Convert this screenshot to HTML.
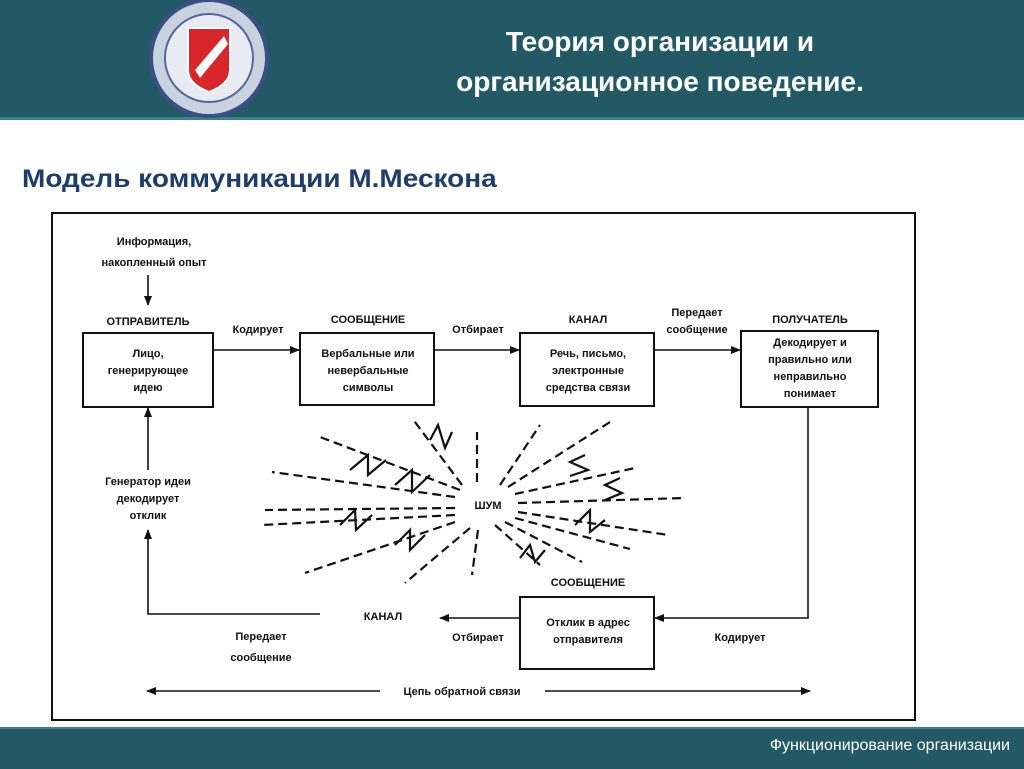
<!DOCTYPE html>
<html><head><meta charset="utf-8"><style>
body{margin:0;width:1024px;height:767px;overflow:hidden;background:#fff;font-family:"Liberation Sans",sans-serif;position:relative}
.hdr{position:absolute;left:0;top:0;width:1024px;height:117px;background:#235965;border-bottom:3px solid #3d7f8c}
.ttl{position:absolute;left:380px;top:22px;width:560px;text-align:center;color:#fff;font-size:28px;font-weight:bold;line-height:40px}
.sub{position:absolute;left:22px;top:165px;color:#1f3d6b;font-size:25px;font-weight:bold;transform:scaleX(1.12);transform-origin:left}
.ftr{position:absolute;left:0;top:727px;width:1024px;height:40px;background:#235965;border-top:2px solid #3d7f8c}
.ftr span{position:absolute;right:14px;top:8px;color:#fff;font-size:16px}
svg text{font-family:"Liberation Sans",sans-serif;font-weight:bold;font-size:11px;fill:#111}
</style></head><body>
<div class="hdr">
<svg width="140" height="118" style="position:absolute;left:140px;top:0">
<ellipse cx="69" cy="58" rx="58" ry="58" fill="#c9d3e0" stroke="#3b4f86" stroke-width="4"/>
<ellipse cx="69" cy="58" rx="44" ry="44" fill="#e8ecf2" stroke="#56689a" stroke-width="2"/>
<path d="M48 28 H90 V70 Q90 84 69 92 Q48 84 48 70 Z" fill="#d8262b" stroke="#fff" stroke-width="2"/>
<path d="M55 70 L84 36 L88 44 L60 78 Z" fill="#fff"/>
</svg>
<div class="ttl">Теория организации и<br>организационное поведение.</div>
</div>
<div class="sub">Модель коммуникации М.Мескона</div>
<svg width="1024" height="767" style="position:absolute;left:0;top:0">
<defs><marker id="a" markerWidth="10" markerHeight="8" refX="9" refY="4" orient="auto" markerUnits="userSpaceOnUse"><path d="M0 0 L10 4 L0 8 Z" fill="#111"/></marker></defs>
<rect x="52" y="213" width="863" height="507" fill="none" stroke="#111" stroke-width="2"/>
<g fill="none" stroke="#111" stroke-width="2">
<rect x="83" y="333" width="130" height="74"/>
<rect x="300" y="333" width="134" height="72"/>
<rect x="520" y="333" width="134" height="73"/>
<rect x="741" y="331" width="137" height="76"/>
<rect x="520" y="597" width="134" height="72"/>
</g>
<g stroke="#111" stroke-width="1.6" fill="none" marker-end="url(#a)">
<line x1="148" y1="275" x2="148" y2="305"/>
<line x1="213" y1="350" x2="299" y2="350"/>
<line x1="434" y1="350" x2="519" y2="350"/>
<line x1="654" y1="350" x2="740" y2="350"/>
<polyline points="808,407 808,618 655,618"/>
<line x1="520" y1="618" x2="440" y2="618"/>
<polyline points="320,614 148,614 148,530"/>
<line x1="148" y1="470" x2="148" y2="408"/>
<line x1="545" y1="691" x2="810" y2="691"/>
<line x1="380" y1="691" x2="147" y2="691"/>
</g>
<g text-anchor="middle">
<text x="154" y="245">Информация,</text><text x="154" y="266">накопленный опыт</text>
<text x="148" y="325">ОТПРАВИТЕЛЬ</text>
<text x="258" y="333">Кодирует</text>
<text x="148" y="357">Лицо,</text><text x="148" y="374">генерирующее</text><text x="148" y="391">идею</text>
<text x="368" y="323">СООБЩЕНИЕ</text>
<text x="368" y="357">Вербальные или</text><text x="368" y="374">невербальные</text><text x="368" y="391">символы</text>
<text x="478" y="333">Отбирает</text>
<text x="588" y="323">КАНАЛ</text>
<text x="588" y="357">Речь, письмо,</text><text x="588" y="374">электронные</text><text x="588" y="391">средства связи</text>
<text x="697" y="316">Передает</text><text x="697" y="333">сообщение</text>
<text x="810" y="323">ПОЛУЧАТЕЛЬ</text>
<text x="810" y="346">Декодирует и</text><text x="810" y="363">правильно или</text><text x="810" y="380">неправильно</text><text x="810" y="397">понимает</text>
<text x="148" y="485">Генератор идеи</text><text x="148" y="502">декодирует</text><text x="148" y="519">отклик</text>
<text x="488" y="509">ШУМ</text>
<text x="588" y="586">СООБЩЕНИЕ</text>
<text x="588" y="626">Отклик в адрес</text><text x="588" y="643">отправителя</text>
<text x="383" y="620">КАНАЛ</text>
<text x="478" y="641">Отбирает</text>
<text x="740" y="641">Кодирует</text>
<text x="261" y="640">Передает</text><text x="261" y="661">сообщение</text>
<text x="462" y="695">Цепь обратной связи</text>
</g>
<g stroke="#111" stroke-width="2.2" fill="none" stroke-dasharray="9 5">
<line x1="460" y1="490" x2="320" y2="437"/>
<line x1="455" y1="497" x2="272" y2="472"/>
<line x1="455" y1="508" x2="265" y2="510"/>
<line x1="455" y1="515" x2="262" y2="525"/>
<line x1="455" y1="522" x2="305" y2="573"/>
<line x1="470" y1="528" x2="405" y2="583"/>
<line x1="478" y1="530" x2="472" y2="575"/>
<line x1="495" y1="525" x2="540" y2="565"/>
<line x1="505" y1="522" x2="582" y2="562"/>
<line x1="515" y1="518" x2="630" y2="549"/>
<line x1="518" y1="512" x2="668" y2="535"/>
<line x1="518" y1="503" x2="685" y2="498"/>
<line x1="515" y1="494" x2="635" y2="468"/>
<line x1="508" y1="487" x2="610" y2="422"/>
<line x1="500" y1="485" x2="540" y2="425"/>
<line x1="477" y1="482" x2="477" y2="432"/>
<line x1="462" y1="485" x2="412" y2="418"/>
</g>
<g stroke="#111" stroke-width="2.2" fill="none">
<polyline points="350,470 368,455 368,475 386,460"/>
<polyline points="395,485 412,470 412,492 430,475"/>
<polyline points="340,525 355,510 356,530 372,515"/>
<polyline points="395,545 410,530 410,550 425,535"/>
<polyline points="430,440 438,425 445,448 452,432"/>
<polyline points="585,455 570,462 588,470 570,476"/>
<polyline points="620,478 605,485 622,493 605,500"/>
<polyline points="575,525 590,510 590,532 605,520"/>
<polyline points="520,558 530,545 535,562 545,550"/>
</g>
</svg>
<div class="ftr"><span>Функционирование организации</span></div>
</body></html>
